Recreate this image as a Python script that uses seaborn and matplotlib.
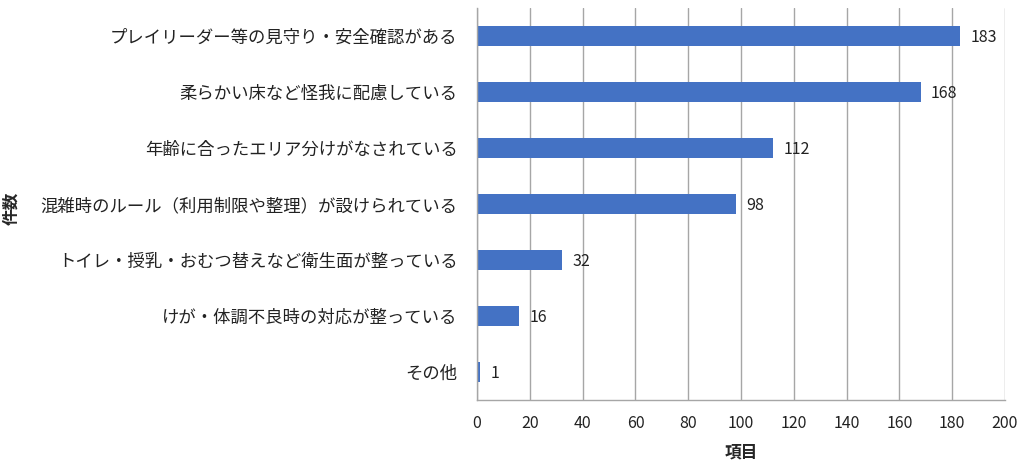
import matplotlib
matplotlib.use("Agg")
import matplotlib.pyplot as plt
import seaborn as sns
import pandas as pd

categories = [
    "プレイリーダー等の見守り・安全確認がある",
    "柔らかい床など怪我に配慮している",
    "年齢に合ったエリア分けがなされている",
    "混雑時のルール（利用制限や整理）が設けられている",
    "トイレ・授乳・おむつ替えなど衛生面が整っている",
    "けが・体調不良時の対応が整っている",
    "その他",
]
values = [183, 168, 112, 98, 32, 16, 1]
x_ticks = [0, 20, 40, 60, 80, 100, 120, 140, 160, 180, 200]

sns.set_theme(style="white")
plt.rcParams['font.family'] = ['Noto Sans CJK JP', 'DejaVu Sans']

df = pd.DataFrame({"item": categories, "count": values})

fig = plt.figure(figsize=(10.26, 4.62), dpi=100)
ax = fig.add_axes([0.465, 0.134, 0.5145, 0.849])

sns.barplot(data=df, y="item", x="count", orient="h", color="#4472C4",
            saturation=1, width=0.36, edgecolor="none", ax=ax)

ax.set_xlim(0, 200)
ax.set_ylim(6.5, -0.5)
ax.set_xticks(x_ticks)
ax.set_xticklabels([str(t) for t in x_ticks], fontsize=11.5, color="#222222")
ax.tick_params(axis="y", labelsize=12.5, length=0, pad=14, labelcolor="#222222")
ax.tick_params(axis="x", length=0, pad=11)
ax.xaxis.grid(True, color="#A6A6A6", linewidth=1)
ax.set_axisbelow(True)
for s in ["top", "right"]:
    ax.spines[s].set_visible(False)
for s in ["left", "bottom"]:
    ax.spines[s].set_color("#A6A6A6")
    ax.spines[s].set_linewidth(1)

for i, v in enumerate(values):
    ax.text(v + 4, i + 0.03, str(v), va="center", ha="left", fontsize=11.5, color="#222222")

ax.set_xlabel("項目", fontsize=12, fontweight="bold", labelpad=8)
ax.set_ylabel("")
fig.text(0.011, 0.55, "件数", rotation=90, fontsize=12, fontweight="bold",
         va="center", ha="center")

fig.savefig("out.png", dpi=100, facecolor="white")
